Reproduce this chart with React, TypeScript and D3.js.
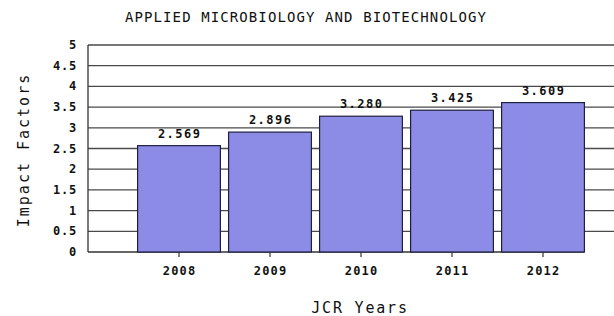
import React, { useEffect, useRef } from "react";
import * as d3 from "d3";

const years = ["2008", "2009", "2010", "2011", "2012"];
const impactFactors = [2.569, 2.896, 3.28, 3.425, 3.609];
const valueLabels = ["2.569", "2.896", "3.280", "3.425", "3.609"];
const yTicks = [0, 0.5, 1, 1.5, 2, 2.5, 3, 3.5, 4, 4.5, 5];
const yTickLabels = ["0", "0.5", "1", "1.5", "2", "2.5", "3", "3.5", "4", "4.5", "5"];

const title = "APPLIED MICROBIOLOGY AND BIOTECHNOLOGY";
const xTitle = "JCR Years";
const yTitle = "Impact Factors";

export default function App() {
  const chartRef = useRef<SVGSVGElement>(null);

  useEffect(() => {
    const svg = d3.select(chartRef.current);
    svg.selectAll("*").remove();

    const width = 614;
    const left = 88;
    const font = "'DejaVu Sans Mono', monospace";

    const x = d3
      .scaleBand()
      .domain(years)
      .range([left, left + 546])
      .paddingInner(0.09)
      .paddingOuter(0.545);

    const y = d3.scaleLinear().domain([0, 5]).range([252, 45]);

    svg.append("rect").attr("width", width).attr("height", 316).attr("fill", "#fff");

    // gridlines
    svg
      .selectAll("line.grid")
      .data(yTicks.filter((t) => t > 0))
      .enter()
      .append("line")
      .attr("class", "grid")
      .attr("x1", left)
      .attr("x2", width)
      .attr("y1", (d) => y(d))
      .attr("y2", (d) => y(d))
      .attr("stroke", "#4a4a4a")
      .attr("stroke-width", 1.3);

    // axes lines
    const lastBar = x(years[years.length - 1])! + x.bandwidth();
    svg
      .append("line")
      .attr("x1", left)
      .attr("x2", lastBar)
      .attr("y1", y(0))
      .attr("y2", y(0))
      .attr("stroke", "#333")
      .attr("stroke-width", 1.3);
    svg
      .append("line")
      .attr("x1", left)
      .attr("x2", left)
      .attr("y1", y(0))
      .attr("y2", y(5))
      .attr("stroke", "#333")
      .attr("stroke-width", 1.3);

    // bars
    svg
      .selectAll("rect.bar")
      .data(impactFactors)
      .enter()
      .append("rect")
      .attr("class", "bar")
      .attr("x", (d, i) => x(years[i])!)
      .attr("y", (d) => y(d))
      .attr("width", x.bandwidth())
      .attr("height", (d) => y(0) - y(d))
      .attr("fill", "#8c8ce6")
      .attr("stroke", "#1e1e40")
      .attr("stroke-width", 1.2);

    // value labels
    svg
      .selectAll("text.val")
      .data(impactFactors)
      .enter()
      .append("text")
      .attr("class", "val")
      .attr("x", (d, i) => x(years[i])! + x.bandwidth() / 2 + 0.7)
      .attr("y", (d) => y(d) - 8)
      .attr("text-anchor", "middle")
      .attr("font-family", font)
      .attr("font-weight", "bold")
      .attr("font-size", 12)
      .attr("letter-spacing", 1.5)
      .attr("fill", "#111")
      .text((d, i) => valueLabels[i]);

    // x ticks
    years.forEach((yr) => {
      const cx = x(yr)! + x.bandwidth() / 2;
      svg
        .append("line")
        .attr("x1", cx)
        .attr("x2", cx)
        .attr("y1", y(0))
        .attr("y2", y(0) + 5)
        .attr("stroke", "#333")
        .attr("stroke-width", 1.2);
      svg
        .append("text")
        .attr("x", cx + 0.6)
        .attr("y", 275)
        .attr("text-anchor", "middle")
        .attr("font-family", font)
        .attr("font-weight", "bold")
        .attr("font-size", 12)
        .attr("letter-spacing", 1.2)
        .attr("fill", "#111")
        .text(yr);
    });

    // y tick labels
    svg
      .selectAll("text.ytick")
      .data(yTicks)
      .enter()
      .append("text")
      .attr("class", "ytick")
      .attr("x", 77)
      .attr("y", (d) => y(d) + 4)
      .attr("text-anchor", "end")
      .attr("font-family", font)
      .attr("font-weight", "bold")
      .attr("font-size", 12)
      .attr("letter-spacing", 0.8)
      .attr("fill", "#111")
      .text((d, i) => yTickLabels[i]);

    // titles
    svg
      .append("text")
      .attr("x", 306)
      .attr("y", 22)
      .attr("text-anchor", "middle")
      .attr("font-family", font)
      .attr("font-size", 14)
      .attr("letter-spacing", 1.1)
      .attr("fill", "#111")
      .text(title);

    svg
      .append("text")
      .attr("x", 360)
      .attr("y", 313)
      .attr("text-anchor", "middle")
      .attr("font-family", font)
      .attr("font-size", 15)
      .attr("letter-spacing", 1.8)
      .attr("fill", "#111")
      .text(xTitle);

    svg
      .append("text")
      .attr("transform", "translate(29,150) rotate(-90)")
      .attr("text-anchor", "middle")
      .attr("font-family", font)
      .attr("font-size", 15)
      .attr("letter-spacing", 2)
      .attr("fill", "#111")
      .text(yTitle);
  }, []);

  return (
    <div style={{ position: "fixed", left: 0, top: 0 }}>
      <svg ref={chartRef} width="614" height="316"></svg>
    </div>
  );
}
